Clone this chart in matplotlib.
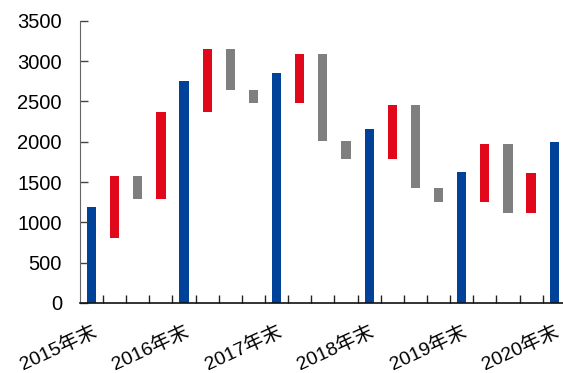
import matplotlib.pyplot as plt

# floating bars: year-end totals and the moves between them
labels = ["2015年末", "", "", "", "2016年末", "", "", "", "2017年末", "", "", "",
          "2018年末", "", "", "", "2019年末", "", "", "", "2020年末"]
lows = [0, 810, 1290, 1290, 0, 2375, 2645, 2480, 0, 2480, 2015, 1785,
        0, 1785, 1420, 1250, 0, 1250, 1115, 1115, 0]
highs = [1190, 1570, 1570, 2370, 2750, 3155, 3155, 2645, 2855, 3095, 3095, 2015,
         2160, 2455, 2455, 1420, 1625, 1975, 1975, 1615, 1995]
kinds = ["total", "red", "grey", "red", "total", "red", "grey", "grey", "total",
         "red", "grey", "grey", "total", "red", "grey", "grey", "total",
         "red", "grey", "red", "total"]

palette = {"total": "#00419A", "red": "#E0081A", "grey": "#7F7F7F"}
font = ["Liberation Sans", "Noto Sans CJK SC"]

fig = plt.figure(figsize=(5.63, 3.73), dpi=100)
ax = fig.add_axes([0.142, 0.188, 0.858, 0.756])

x = list(range(len(labels)))
heights = [h - l for l, h in zip(lows, highs)]
ax.bar(x, heights, bottom=lows, width=0.4,
       color=[palette[k] for k in kinds], linewidth=0)

ax.set_xlim(-0.5, 20.38)
ax.set_ylim(0, 3500)
ax.set_yticks(range(0, 3501, 500))

major = [i for i, s in enumerate(labels) if s]
ax.set_xticks(major)
ax.set_xticklabels([labels[i] for i in major], rotation=25, ha="right",
                   rotation_mode="anchor", family=font, fontsize=14)
ax.set_xticks([i + 0.5 for i in range(len(labels) - 1)], minor=True)
ax.tick_params(axis="x", which="major", length=0, pad=14)
ax.tick_params(axis="x", which="minor", direction="in", length=6, width=1, color="#222222")
ax.tick_params(axis="y", direction="in", length=6, width=1, pad=13, labelsize=14.5, color="#444444")
for t in ax.get_yticklabels():
    t.set_family(font)

for side in ("top", "right"):
    ax.spines[side].set_visible(False)
ax.spines["left"].set_color("#666666")
ax.spines["bottom"].set_color("#111111")
ax.spines["bottom"].set_linewidth(1.2)

fig.savefig("out.png", dpi=100)
